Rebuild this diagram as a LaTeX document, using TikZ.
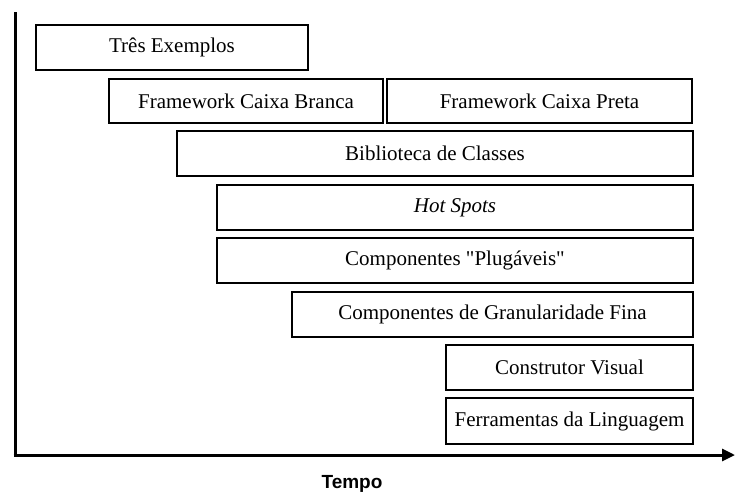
\documentclass[tikz,border=0pt]{standalone}
\usepackage{fontspec}
\setmainfont{Liberation Serif}
\newfontfamily\labelfont{Liberation Sans}
\usetikzlibrary{arrows.meta}
\begin{document}
\begin{tikzpicture}[x=1pt,y=-1pt,
  box/.style={draw=black, line width=2pt, rectangle, inner sep=0pt, outer sep=0pt,
    font=\fontsize{21}{25}\selectfont},
  axis/.style={draw=black, line width=3pt},
  axislabel/.style={font=\labelfont\bfseries\fontsize{19}{22}\selectfont, inner sep=0pt, anchor=base}]
\useasboundingbox (0,0) rectangle (735,493);
\node[box, minimum width=272pt, minimum height=45pt] (t1) at (172,47.5) {Três Exemplos};
\node[box, minimum width=274pt, minimum height=44pt] (fb) at (246,101) {Framework Caixa Branca};
\node[box, minimum width=305pt, minimum height=44pt] (fp) at (539.5,101) {Framework Caixa Preta};
\node[box, minimum width=516pt, minimum height=45pt] (bc) at (435,153.5) {Biblioteca de Classes};
\node[box, minimum width=476pt, minimum height=45pt] (hs) at (455,207.5) {\itshape Hot Spots};
\node[box, minimum width=476pt, minimum height=45pt] (cp) at (455,260.5) {Componentes \textquotedbl Plugáveis\textquotedbl};
\node[box, minimum width=401pt, minimum height=45pt] (cg) at (492.5,314.5) {Componentes de Granularidade Fina};
\node[box, minimum width=247pt, minimum height=45pt] (cv) at (569.5,367.5) {Construtor Visual};
\node[box, minimum width=247pt, minimum height=46pt] (fl) at (569.5,421) {Ferramentas da Linguagem};
\coordinate (top) at (15,12);
\coordinate (origin) at (15,455);
\coordinate (xend) at (735,455);
\draw[axis] (top) -- (origin);
\draw[axis, -{Triangle[length=13pt,width=12pt]}] ([xshift=-1.5pt]origin) -- (xend);
\node[axislabel] (tempo) at (352,488) {Tempo};
\end{tikzpicture}
\end{document}
